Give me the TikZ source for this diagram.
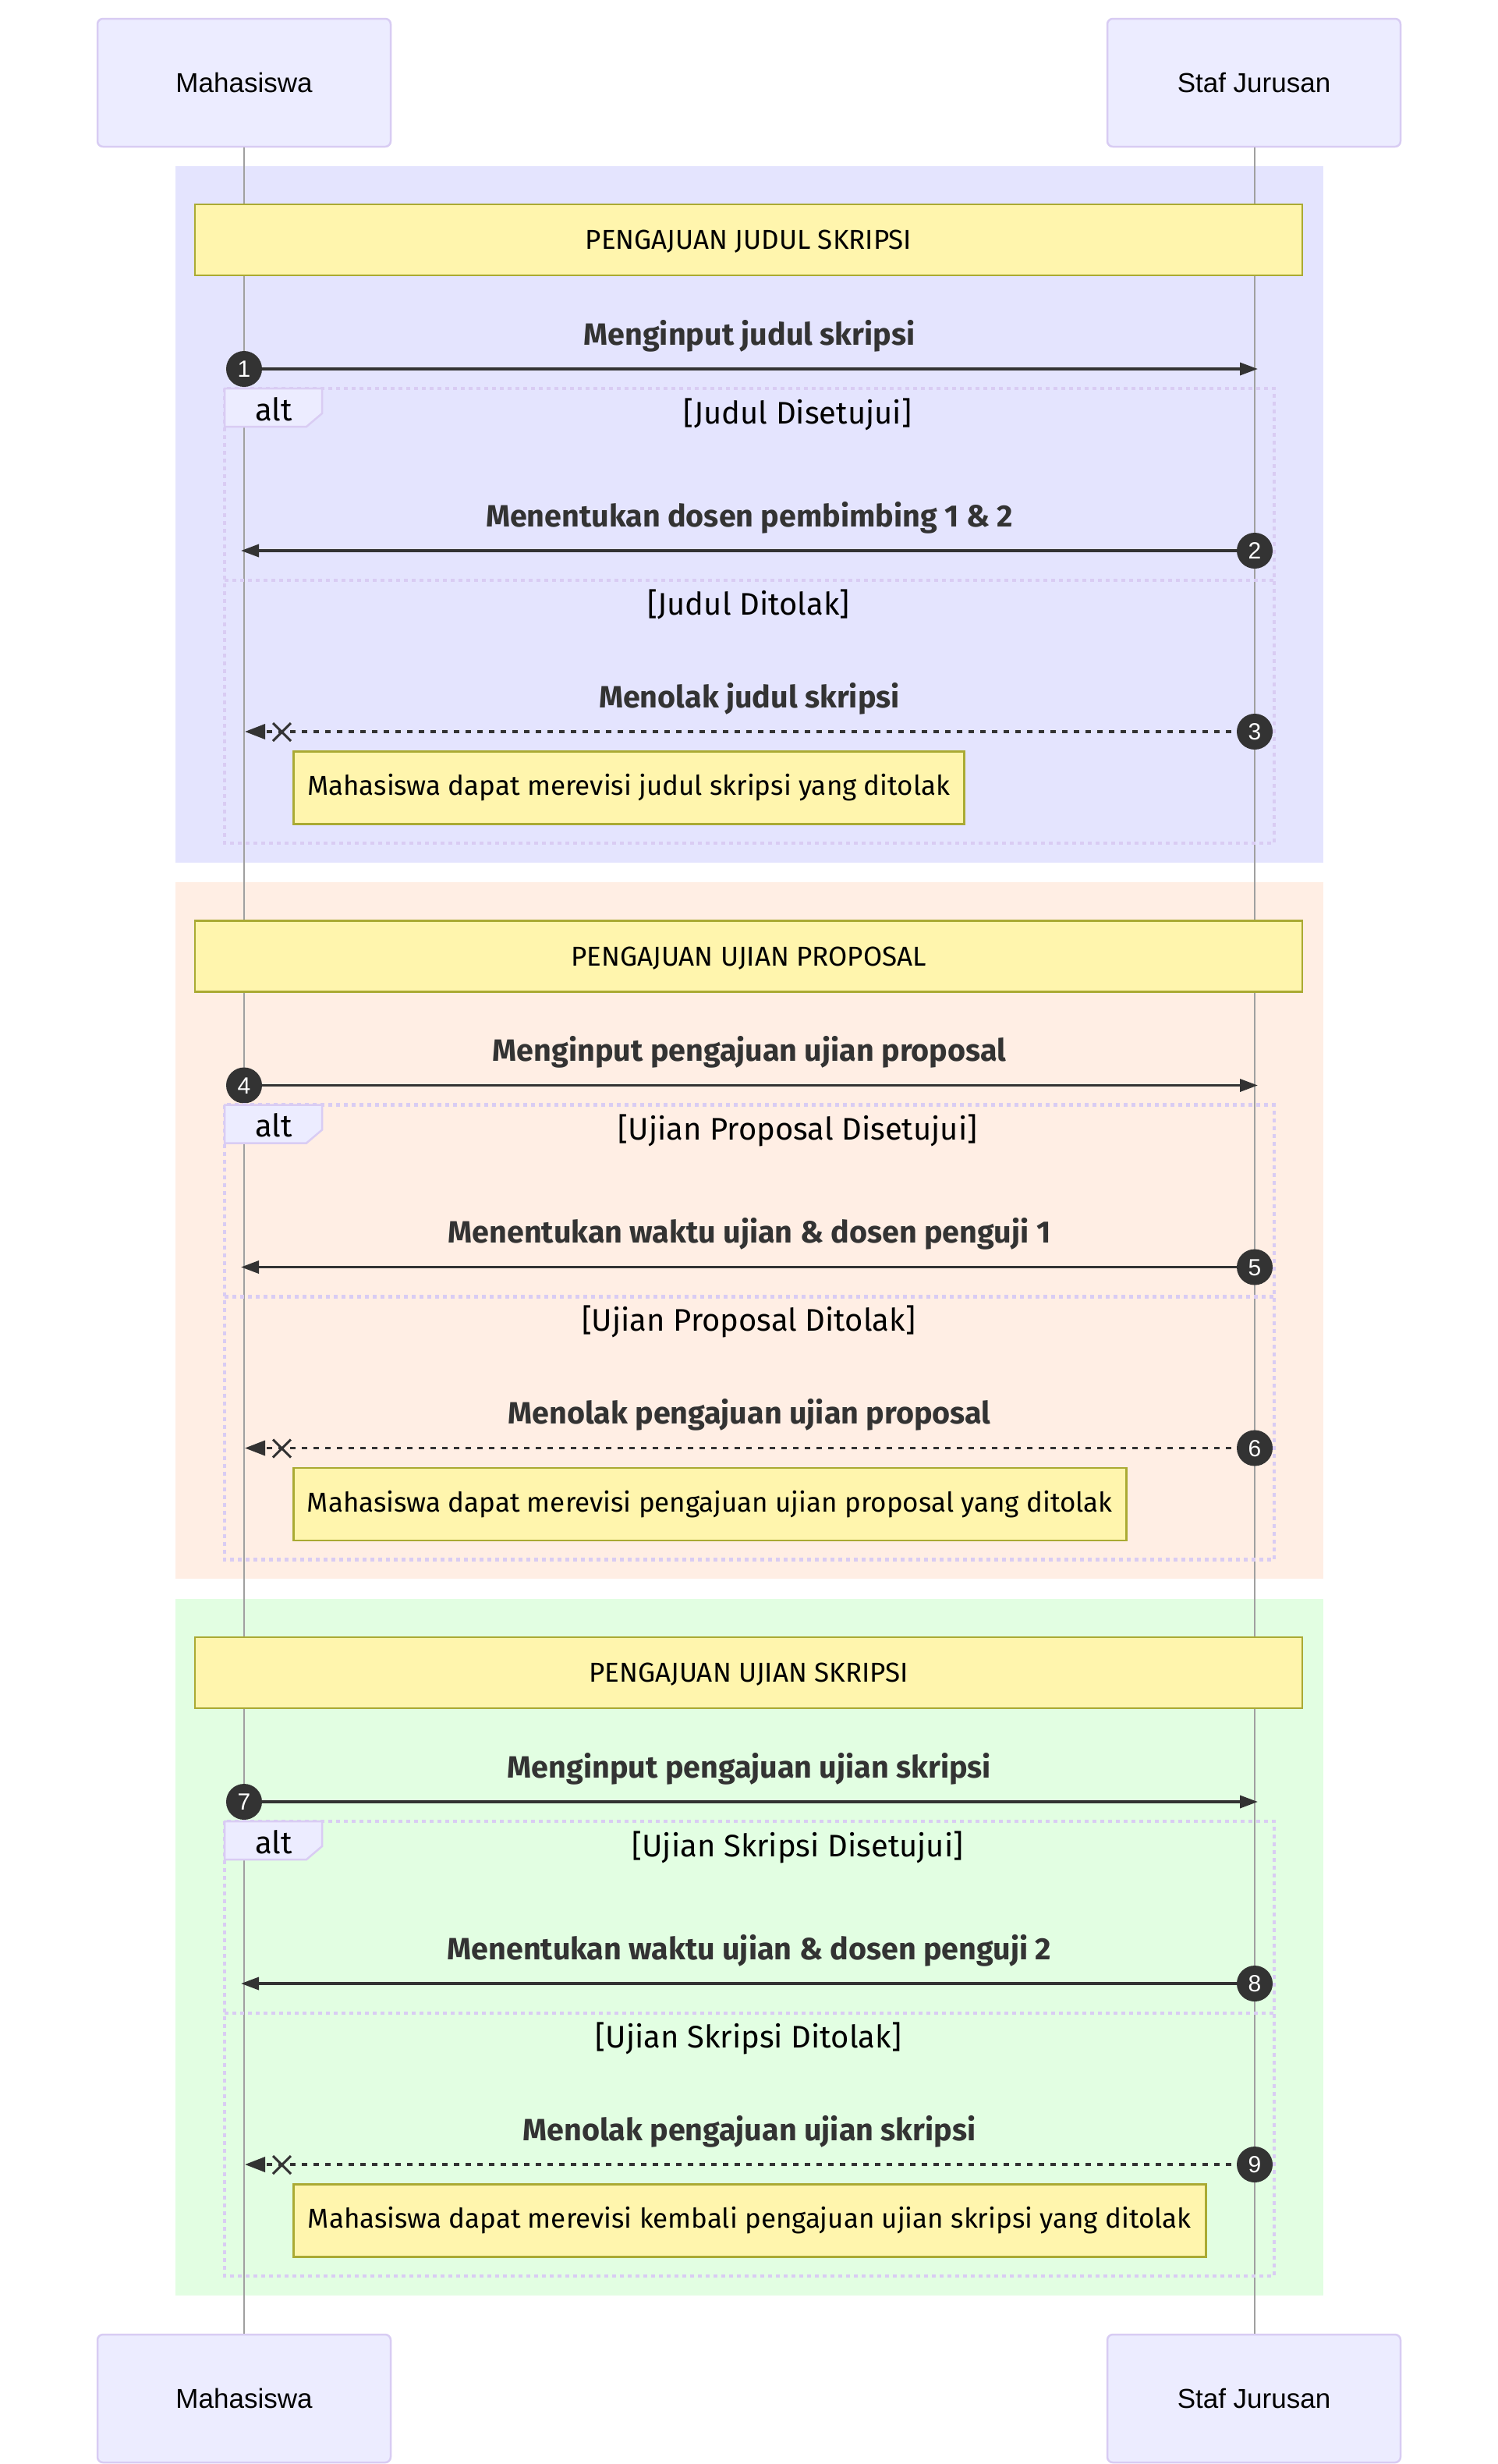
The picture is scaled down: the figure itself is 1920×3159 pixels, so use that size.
\documentclass[tikz,border=0pt]{standalone}
\usepackage{fontspec}
\setmainfont{Fira Sans}
\newfontfamily\arialfam{Liberation Sans}
\usetikzlibrary{arrows.meta}
\definecolor{actorfill}{HTML}{ECECFF}
\definecolor{actorborder}{HTML}{D8CCF3}
\definecolor{lifecol}{HTML}{A0A0A0}
\definecolor{loopcol}{HTML}{D9CCF3}
\definecolor{notefill}{HTML}{FFF5AD}
\definecolor{noteborder}{HTML}{AAAA33}
\definecolor{msgcol}{HTML}{333333}
\definecolor{secA}{HTML}{E4E4FE}
\definecolor{secB}{HTML}{FFEEE4}
\definecolor{secC}{HTML}{E2FEE2}
\newcommand\actorfnt{\arialfam\fontsize{35}{42}\selectfont}
\newcommand\notefnt{\fontsize{35}{42}\selectfont}
\newcommand\msgfnt{\fontsize{39.5}{48}\selectfont\bfseries}
\newcommand\guardfnt{\fontsize{40}{48}\selectfont}
\newcommand\numfnt{\arialfam\fontsize{30}{34}\selectfont}
\tikzset{
 actorbox/.style={draw=actorborder, fill=actorfill, line width=2.5pt, rounded corners=7pt, minimum width=376pt, minimum height=164pt, font=\actorfnt, text=black, inner sep=0pt},
 lifeline/.style={draw=lifecol, line width=1.8pt},
 headnote/.style={draw=noteborder, fill=notefill, line width=2.5pt, minimum width=1420pt, minimum height=91pt, font=\notefnt, text height=24pt, text depth=0pt, inner sep=0pt},
 notebox/.style={draw=noteborder, fill=notefill, line width=2.5pt, minimum height=93pt, font=\notefnt, inner sep=0pt},
 numdot/.style={circle, fill=msgcol, text=white, minimum size=46pt, inner sep=0pt, font=\numfnt, text height=21pt, text depth=0pt},
 msgtext/.style={font=\msgfnt, text=msgcol, anchor=base, inner sep=0pt},
 guardtext/.style={font=\guardfnt, text=black, anchor=base, inner sep=0pt},
 msgline/.style={draw=msgcol, line width=3.5pt, -{Triangle[length=23pt,width=16pt]}},
 replyline/.style={draw=msgcol, line width=3.5pt, dash pattern=on 7.5pt off 7.5pt, -{Triangle[length=26pt,width=19pt]}},
 loopline/.style={draw=loopcol, line width=4.5pt, dash pattern=on 5pt off 5pt},
 altlabel/.style={draw=loopcol, fill=actorfill, line width=2.5pt},
 crossmark/.style={draw=msgcol, line width=3pt},
}
% #1 shift, #2 section no, #3 header, #4 msg1, #5 guard1, #6 msg2, #7 guard2, #8 msg3, #9 note
\newcommand\seqblock[9]{%
 \begin{scope}[shift={(0,#1)}]
  \node[headnote] (h#2) at (960,307.5) {#3};
  % message 1
  \node[msgtext] (ta#2) at (961,442) {#4};
  \coordinate (sa#2) at (313,473);
  \coordinate (ea#2) at (1613,473);
  \draw[msgline] (sa#2) -- (ea#2);
  \node[numdot] (na#2) at (sa#2) {\the\numexpr3*#2-2\relax};
  % alt frame
  \draw[loopline] (288,498) rectangle (1634,1081);
  \draw[altlabel] (288,498) -- (413,498) -- (413,530) -- (393,547) -- (288,547) -- cycle;
  \node[guardtext] (al#2) at (351,539) {alt};
  \node[guardtext] (ga#2) at (1023,543) {#5};
  % message 2
  \node[msgtext] (tb#2) at (961,675) {#6};
  \coordinate (sb#2) at (1609,706);
  \coordinate (eb#2) at (309,706);
  \draw[msgline] (sb#2) -- (eb#2);
  \node[numdot] (nb#2) at (sb#2) {\the\numexpr3*#2-1\relax};
  % separator
  \draw[loopline] (288,744) -- (1634,744);
  \node[guardtext] (gb#2) at (960,788) {#7};
  % message 3
  \node[msgtext] (tc#2) at (961,907) {#8};
  \coordinate (sc#2) at (1609,938);
  \coordinate (ec#2) at (314,938);
  \draw[replyline] (sc#2) -- (ec#2);
  \draw[crossmark] (350,927) -- (373,950) (350,950) -- (373,927);
  \node[numdot] (nc#2) at (sc#2) {\the\numexpr3*#2\relax};
  % note
  \node[notebox, anchor=west, minimum width=\notew] (nt#2) at (375,1010) {#9};
 \end{scope}}
\begin{document}
\begin{tikzpicture}[x=1pt,y=-1pt]
\useasboundingbox (0,0) rectangle (1920,3159);
\fill[white] (0,0) rectangle (1920,3159);
% section backgrounds
\fill[secA] (225,213) rectangle (1697,1106);
\fill[secB] (225,1131) rectangle (1697,2024);
\fill[secC] (225,2050) rectangle (1697,2943);
% actors
\node[actorbox] (mt) at (313,106) {Mahasiswa};
\node[actorbox] (st) at (1608,106) {Staf Jurusan};
\node[actorbox] (mb) at (313,3075) {Mahasiswa};
\node[actorbox] (sb) at (1608,3075) {Staf Jurusan};
\draw[lifeline] (mt.south) -- (mb.north);
\draw[lifeline] (st.south -| 1609,0) -- (sb.north -| 1609,0);
\def\notew{860pt}
\seqblock{0}{1}{PENGAJUAN JUDUL SKRIPSI}{Menginput judul skripsi}{[Judul Disetujui]}{Menentukan dosen pembimbing 1 \& 2}{[Judul Ditolak]}{Menolak judul skripsi}{Mahasiswa dapat merevisi judul skripsi yang ditolak}
\def\notew{1068pt}
\seqblock{918.5}{2}{PENGAJUAN UJIAN PROPOSAL}{Menginput pengajuan ujian proposal}{[Ujian Proposal Disetujui]}{Menentukan waktu ujian \& dosen penguji 1}{[Ujian Proposal Ditolak]}{Menolak pengajuan ujian proposal}{Mahasiswa dapat merevisi pengajuan ujian proposal yang ditolak}
\def\notew{1170pt}
\seqblock{1837}{3}{PENGAJUAN UJIAN SKRIPSI}{Menginput pengajuan ujian skripsi}{[Ujian Skripsi Disetujui]}{Menentukan waktu ujian \& dosen penguji 2}{[Ujian Skripsi Ditolak]}{Menolak pengajuan ujian skripsi}{Mahasiswa dapat merevisi kembali pengajuan ujian skripsi yang ditolak}
\end{tikzpicture}
\end{document}
